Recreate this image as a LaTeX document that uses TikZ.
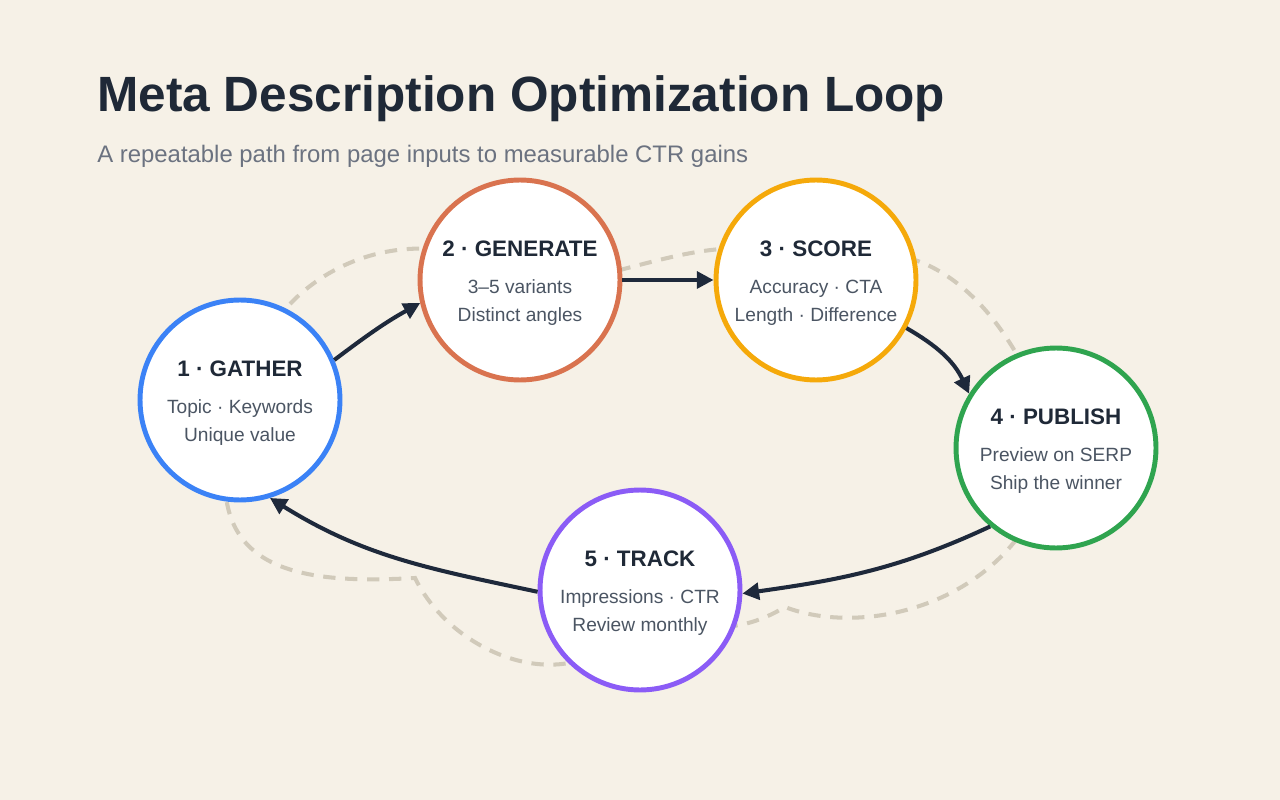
\documentclass[tikz,border=0pt]{standalone}
\usepackage{fontspec}
\setmainfont{Liberation Sans}
\usetikzlibrary{arrows.meta}

\definecolor{paper}{HTML}{F6F1E7}
\definecolor{ink}{HTML}{1F2937}
\definecolor{arrowink}{HTML}{1E293B}
\definecolor{subgray}{HTML}{4B5563}
\definecolor{leadgray}{HTML}{6B7280}
\definecolor{guide}{HTML}{D1CABA}
\definecolor{gatherblue}{HTML}{3B82F6}
\definecolor{generateorange}{HTML}{D9734F}
\definecolor{scoreamber}{HTML}{F5A90A}
\definecolor{publishgreen}{HTML}{2FA44F}
\definecolor{trackpurple}{HTML}{8B5CF6}

\newcommand{\stagetitle}[1]{{\fontsize{12.75}{15}\selectfont\bfseries\color{ink}\rule{0pt}{12.5pt}#1}}

\begin{document}
\begin{tikzpicture}[
    x=0.02cm, y=-0.02cm,
    % one circle per step of the loop
    stage/.style={circle, draw, line width=2.8pt, fill=white, minimum size=4cm,
        inner sep=0pt, align=center, text=subgray, font=\fontsize{10.9}{15.9}\selectfont},
    flow/.style={line width=2.3pt, draw=arrowink, -{Triangle[length=9.5pt, width=9.5pt]}},
    loopguide/.style={line width=2.3pt, draw=guide, dash pattern=on 7pt off 5.5pt}
  ]
  \useasboundingbox[fill=paper] (0,0) rectangle (1280,800);

  \node[anchor=base west, inner sep=0pt, text=ink, font=\fontsize{28.2}{34}\selectfont\bfseries]
    (title) at (97,112) {Meta Description Optimization Loop};
  \node[anchor=base west, inner sep=0pt, text=leadgray, font=\fontsize{13.6}{16}\selectfont]
    (lead) at (97,163) {A repeatable path from page inputs to measurable CTR gains};

  \coordinate (c1) at (240,400);
  \coordinate (c2) at (520,280);
  \coordinate (c3) at (816,280);
  \coordinate (c4) at (1056,448);
  \coordinate (c5) at (640,590);
  \coordinate (k45) at (785,607);
  \coordinate (k51) at (415,578);

  % dashed guide behind the circles
  \draw[loopguide] (c1) .. controls (270,260) and (420,210) .. (c2)
    .. controls (600,300) and (740,200) .. (c3)
    .. controls (880,220) and (1000,260) .. (c4)
    .. controls (1030,600) and (870,640) .. (k45)
    .. controls (730,640) and (680,630) .. (c5)
    .. controls (610,710) and (460,670) .. (k51)
    .. controls (290,585) and (185,570) .. (c1);

  \node[stage, draw=gatherblue] (gather) at (c1)
    {\stagetitle{1 · GATHER}\\[5.6pt] Topic · Keywords\\ Unique value};
  \node[stage, draw=generateorange] (generate) at (c2)
    {\stagetitle{2 · GENERATE}\\[5.6pt] 3–5 variants\\ Distinct angles};
  \node[stage, draw=scoreamber] (score) at (c3)
    {\stagetitle{3 · SCORE}\\[5.6pt] Accuracy · CTA\\ Length · Difference};
  \node[stage, draw=publishgreen] (publish) at (c4)
    {\stagetitle{4 · PUBLISH}\\[5.6pt] Preview on SERP\\ Ship the winner};
  \node[stage, draw=trackpurple] (track) at (c5)
    {\stagetitle{5 · TRACK}\\[5.6pt] Impressions · CTR\\ Review monthly};

  \draw[flow] (gather.23) to[out=37, in=209] (generate.193);
  \draw[flow] (generate.east) -- (score.west);
  \draw[flow] (score.-28) to[out=-30, in=115] (publish.148);
  \draw[flow] (publish.230) to[out=205, in=8] (track.-2);
  \draw[flow] (track.181) to[out=168, in=-32] (gather.-73);
\end{tikzpicture}
\end{document}
